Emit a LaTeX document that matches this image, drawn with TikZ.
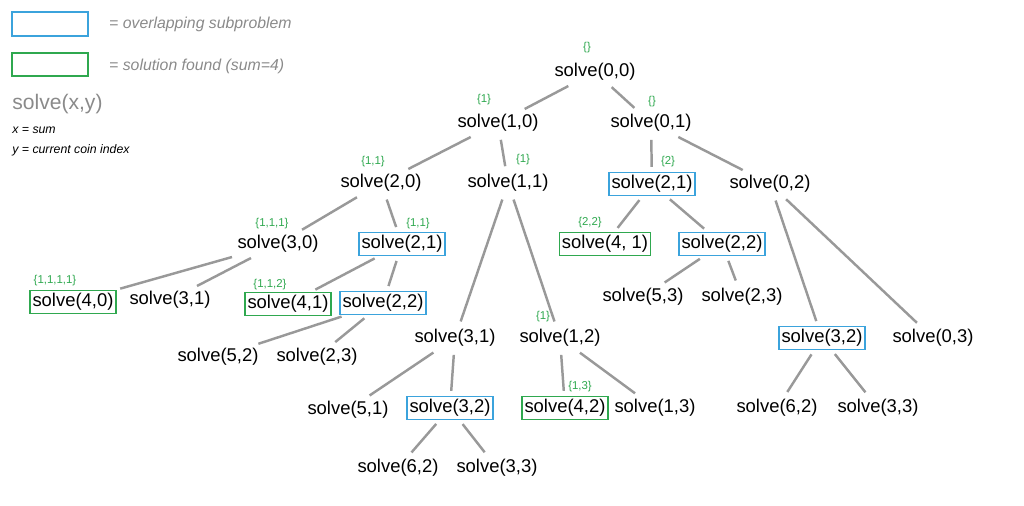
\documentclass[tikz,border=0pt]{standalone}
\usepackage{fontspec}
\setmainfont{Liberation Sans}
\definecolor{bl}{HTML}{3BA3DC}
\definecolor{gr}{HTML}{2FA84F}
\definecolor{gy}{HTML}{8A8A8A}
\begin{document}
\begin{tikzpicture}[x=0.02cm,y=-0.02cm,
  n/.style={font=\fontsize{10.5}{12}\selectfont, inner sep=1.5pt},
  b/.style={n,draw=bl,thick},
  g/.style={n,draw=gr,thick},
  lab/.style={font=\fontsize{6.5}{8}\selectfont,text=gr,inner sep=0pt},
  e/.style={draw=gray!80,line width=1.4pt,shorten <=3pt,shorten >=3pt}]
\useasboundingbox (0,0) rectangle (1024,505);
% legend
\draw[bl,thick] (12,12) rectangle (88,36);
\draw[gr,thick] (12,53) rectangle (88,76);
\node[anchor=west,text=gy,font=\itshape\fontsize{9}{11}\selectfont] (l1) at (103,24) {= overlapping subproblem};
\node[anchor=west,text=gy,font=\itshape\fontsize{9}{11}\selectfont] (l2) at (103,66) {= solution found (sum=4)};
\node[anchor=west,text=gy,font=\large,inner sep=0pt] (l3) at (12,104) {solve(x,y)};
\node[anchor=west,font=\itshape\scriptsize,inner sep=0pt] (l4) at (12,130) {x = sum};
\node[anchor=west,font=\itshape\scriptsize,inner sep=0pt] (l5) at (12,150) {y = current coin index};
% nodes
\node[n] (a) at (595,72) {solve(0,0)};
\node[n] (b) at (498,123) {solve(1,0)};
\node[n] (c) at (651,123) {solve(0,1)};
\node[n] (d) at (381,183) {solve(2,0)};
\node[n] (e1) at (508,183) {solve(1,1)};
\node[b] (f) at (652,184) {solve(2,1)};
\node[n] (h) at (770,184) {solve(0,2)};
\node[n] (i) at (278,244) {solve(3,0)};
\node[b] (j) at (402,244) {solve(2,1)};
\node[g] (k) at (605,244) {solve(4, 1)};
\node[b] (m) at (722,244) {solve(2,2)};
\node[g] (o) at (73,302) {solve(4,0)};
\node[n] (p) at (170,300) {solve(3,1)};
\node[g] (q) at (288,304) {solve(4,1)};
\node[b] (r) at (383,303) {solve(2,2)};
\node[n] (s) at (643,297) {solve(5,3)};
\node[n] (t) at (742,297) {solve(2,3)};
\node[n] (u) at (218,357) {solve(5,2)};
\node[n] (v) at (317,357) {solve(2,3)};
\node[n] (w) at (455,338) {solve(3,1)};
\node[n] (x) at (560,338) {solve(1,2)};
\node[b] (y) at (822,338) {solve(3,2)};
\node[n] (z) at (933,338) {solve(0,3)};
\node[n] (aa) at (348,410) {solve(5,1)};
\node[b] (ab) at (450,408) {solve(3,2)};
\node[g] (ac) at (565,408) {solve(4,2)};
\node[n] (ad) at (655,408) {solve(1,3)};
\node[n] (ae) at (777,408) {solve(6,2)};
\node[n] (af) at (878,408) {solve(3,3)};
\node[n] (ag) at (398,468) {solve(6,2)};
\node[n] (ah) at (497,468) {solve(3,3)};
% labels
\node[lab] (la) at (587,48) {\{\}};
\node[lab] (lb) at (484,100) {\{1\}};
\node[lab] (lc) at (652,102) {\{\}};
\node[lab] (ld) at (373,162) {\{1,1\}};
\node[lab] (le) at (523,160) {\{1\}};
\node[lab] (lf) at (668,162) {\{2\}};
\node[lab] (li) at (272,224) {\{1,1,1\}};
\node[lab] (lj) at (418,224) {\{1,1\}};
\node[lab] (lk) at (590,223) {\{2,2\}};
\node[lab] (lo) at (55,281) {\{1,1,1,1\}};
\node[lab] (lq) at (270,285) {\{1,1,2\}};
\node[lab] (lx) at (543,317) {\{1\}};
\node[lab] (lac) at (580,387) {\{1,3\}};
% edges
\path[e] (a) -- (b); \path[e] (a) -- (c);
\path[e] (b) -- (d); \path[e] (b) -- (e1);
\path[e] (c) -- (f); \path[e] (c) -- (h);
\path[e] (d) -- (i); \path[e] (d) -- (j);
\path[e] (e1) -- (w); \path[e] (e1) -- (x);
\path[e] (f) -- (k); \path[e] (f) -- (m);
\path[e] (h) -- (y); \path[e] (h) -- (z);
\path[e] (i) -- (o); \path[e] (i) -- (p);
\path[e] (j) -- (q); \path[e] (j) -- (r);
\path[e] (m) -- (s); \path[e] (m) -- (t);
\path[e] (r) -- (u); \path[e] (r) -- (v);
\path[e] (w) -- (aa); \path[e] (w) -- (ab);
\path[e] (x) -- (ac); \path[e] (x) -- (ad);
\path[e] (y) -- (ae); \path[e] (y) -- (af);
\path[e] (ab) -- (ag); \path[e] (ab) -- (ah);
\end{tikzpicture}
\end{document}
